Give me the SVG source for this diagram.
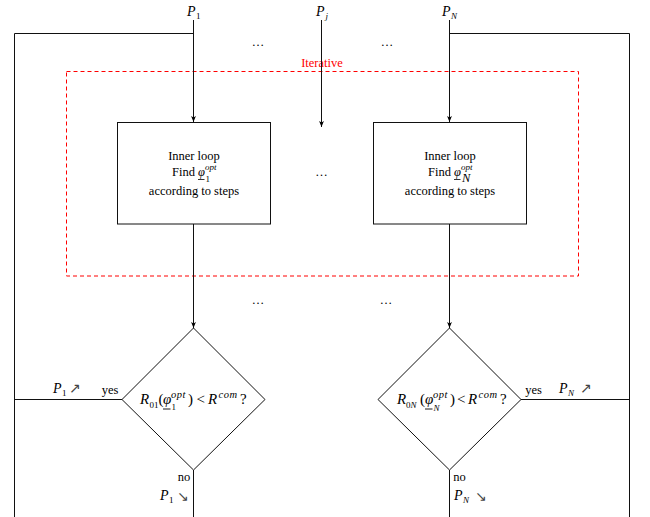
<svg xmlns="http://www.w3.org/2000/svg" width="650" height="517" viewBox="0 0 650 517">
<defs>
<marker id="ah" markerWidth="7" markerHeight="6" refX="6" refY="3" orient="auto" markerUnits="userSpaceOnUse"><path d="M0,0.6 L6,3 L0,5.4 L1.5,3 z" fill="#000"/></marker>
<style>
.t{font-family:"Liberation Serif",serif;font-size:12.5px;fill:#000}
.m{font-family:"Liberation Serif",serif;font-size:15px;fill:#000}
.p{font-family:"Liberation Serif",serif;font-size:14px;font-style:italic;fill:#000}
.i{font-style:italic}
.s{font-size:9px}
.ss{font-size:10.5px;letter-spacing:0.5px}
.ln{fill:none;stroke:#111;stroke-width:1}
.ar{fill:none;stroke:#111;stroke-width:1;marker-end:url(#ah)}
.nd{fill:#fff;stroke:#111;stroke-width:1}
.dots{font-family:"Liberation Serif",serif;font-size:12.5px;fill:#000;text-anchor:middle}
.ax{font-family:"DejaVu Sans",sans-serif;font-size:14px;fill:#444}
</style>
</defs>
<rect width="650" height="517" fill="#fff"/>

<g id="iterative">
<rect x="66.5" y="71.5" width="512" height="204.5" fill="none" stroke="#f00" stroke-width="1" stroke-dasharray="4,3"/>
<text x="322" y="67" text-anchor="middle" font-family="Liberation Serif, serif" font-size="12.5" fill="#f00">Iterative</text>
</g>

<g id="connectors">
<path class="ln" d="M193.5,33.5 H14.5 V517"/>
<path class="ln" d="M449.5,33.5 H629.5 V517"/>
<path class="ar" d="M193.5,20 V122"/>
<path class="ar" d="M321.5,20 V127"/>
<path class="ar" d="M449.5,20 V122"/>
<path class="ar" d="M193.5,224 V328"/>
<path class="ar" d="M449.5,224 V328"/>
<path class="ln" d="M122,399.5 H14.5"/>
<path class="ln" d="M193.5,470 V517"/>
<path class="ln" d="M521,399.5 H629.5"/>
<path class="ln" d="M449.5,470 V517"/>
</g>

<g id="inputs">
<text class="p" x="187" y="16">P</text><text class="t s" x="196" y="18.5">1</text>
<text class="p" x="316" y="16">P</text><text class="t s i" x="325.5" y="18.5">j</text>
<text class="p" x="442" y="16">P</text><text class="t s i" x="451" y="18.5">N</text>
</g>

<g id="dots" fill="#000">
<text class="dots" x="258" y="46">…</text>
<text class="dots" x="387" y="46">…</text>
<text class="dots" x="321.5" y="176">…</text>
<text class="dots" x="258" y="304">…</text>
<text class="dots" x="386" y="304">…</text>
</g>

<g id="box1">
<rect class="nd" x="117.5" y="122.5" width="153" height="101.5"/>
<text class="t" x="194" y="160" text-anchor="middle">Inner loop</text>
<text class="t" x="195" y="176" text-anchor="end">Find</text>
<text class="t i" x="198" y="176">φ</text>
<line x1="198" y1="179.5" x2="204.5" y2="179.5" stroke="#000" stroke-width="0.8"/>
<text class="t s i" x="205" y="170">opt</text>
<text class="t s" x="205.5" y="181.5">1</text>
<text class="t" x="194" y="195" text-anchor="middle">according to steps</text>
</g>

<g id="box2">
<rect class="nd" x="373.5" y="122.5" width="153" height="101.5"/>
<text class="t" x="450" y="160" text-anchor="middle">Inner loop</text>
<text class="t" x="451" y="176" text-anchor="end">Find</text>
<text class="t i" x="454" y="176">φ</text>
<line x1="454" y1="179.5" x2="460.5" y2="179.5" stroke="#000" stroke-width="0.8"/>
<text class="t s i" x="461" y="170">opt</text>
<text class="t i" x="462" y="182" font-size="8">N</text>
<text class="t" x="450" y="195" text-anchor="middle">according to steps</text>
</g>

<g id="decision1">
<polygon class="nd" points="193.5,328 265,399.5 193.5,470 122,399.5"/>
<text class="m i" x="140" y="404">R</text>
<text class="t s" x="149.5" y="407.5">01</text>
<text class="m" x="158.5" y="404">(</text>
<text class="m i" x="163" y="404">φ</text>
<line x1="163" y1="409" x2="170.5" y2="409" stroke="#000" stroke-width="0.9"/>
<text class="t ss i" x="171" y="398">opt</text>
<text class="t s" x="171.5" y="410">1</text>
<text class="m" x="188" y="404">)</text>
<text class="m" x="196.5" y="404">&lt;</text>
<text class="m i" x="208" y="404">R</text>
<text class="t ss i" x="218.5" y="398">com</text>
<text class="m" x="240" y="404">?</text>
<text class="t" x="110" y="394" text-anchor="middle">yes</text>
<text class="p" x="53" y="393">P</text><text class="t s" x="62" y="396">1</text>
<text class="ax" x="69" y="393">↗</text>
<text class="t" x="184" y="481" text-anchor="middle">no</text>
<text class="p" x="160" y="500">P</text><text class="t s" x="169" y="503">1</text>
<text class="ax" x="177" y="501">↘</text>
</g>

<g id="decision2">
<polygon class="nd" points="449.5,328 521,399.5 449.5,470 378,399.5"/>
<text class="m i" x="397" y="404">R</text>
<text class="t s" x="406" y="407.5">0</text><text class="t s i" x="410.5" y="407.5">N</text>
<text class="m" x="420" y="404">(</text>
<text class="m i" x="425" y="404">φ</text>
<line x1="425" y1="409" x2="432.5" y2="409" stroke="#000" stroke-width="0.9"/>
<text class="t ss i" x="433" y="398">opt</text>
<text class="t s i" x="433.5" y="410.5">N</text>
<text class="m" x="450" y="404">)</text>
<text class="m" x="457" y="404">&lt;</text>
<text class="m i" x="468" y="404">R</text>
<text class="t ss i" x="478.5" y="398">com</text>
<text class="m" x="500" y="404">?</text>
<text class="t" x="533.5" y="394" text-anchor="middle">yes</text>
<text class="p" x="559" y="393">P</text><text class="t s i" x="568" y="396">N</text>
<text class="ax" x="580" y="393">↗</text>
<text class="t" x="459.5" y="481" text-anchor="middle">no</text>
<text class="p" x="454" y="500">P</text><text class="t s i" x="463" y="503">N</text>
<text class="ax" x="475" y="501">↘</text>
</g>
</svg>
